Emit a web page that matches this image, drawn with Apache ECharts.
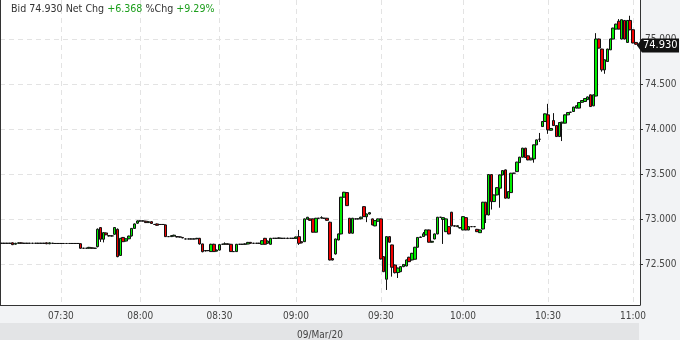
<!DOCTYPE html>
<html><head><meta charset="utf-8">
<script src="https://cdn.jsdelivr.net/npm/echarts@6/dist/echarts.min.js"></script>
<style>html,body{margin:0;padding:0;background:#f2f3f5;overflow:hidden}#c{width:680px;height:340px}</style>
</head><body><div id="c"></div><script>
// ---- header values ----
const bid = 74.930;
const netChg = '+6.368';
const pctChg = '+9.29%';
const dateLabel = '09/Mar/20';
// ---- time categories: runs of consecutive 1-minute bars [start, count] ----
const timeRuns = [["07:09",21],["07:30",28],["08:00",28],["08:30",27],["09:00",30],["09:30",29],["10:00",30],["10:30",30],["11:00",3]];
const tickMinutes = [':00', ':30'];
// ---- candles: [open, close, low, high] ----
const ohlc = [
[72.735,72.735,72.73,72.74],[72.735,72.735,72.73,72.74],[72.735,72.735,72.73,72.74],[72.735,72.735,72.73,72.74],
[72.74,72.72,72.715,72.745],[72.725,72.735,72.72,72.74],[72.735,72.74,72.73,72.745],[72.74,72.735,72.73,72.745],
[72.735,72.735,72.73,72.74],[72.735,72.735,72.73,72.74],[72.735,72.735,72.73,72.74],[72.735,72.735,72.73,72.74],
[72.735,72.735,72.73,72.74],[72.735,72.735,72.73,72.74],[72.735,72.735,72.73,72.74],[72.735,72.735,72.73,72.74],
[72.74,72.73,72.725,72.745],[72.73,72.74,72.725,72.745],[72.735,72.735,72.73,72.74],[72.733,72.733,72.73,72.737],
[72.733,72.733,72.73,72.737],[72.733,72.733,72.73,72.737],[72.733,72.733,72.73,72.737],[72.733,72.733,72.73,72.737],
[72.733,72.733,72.73,72.737],[72.733,72.733,72.73,72.737],[72.733,72.733,72.73,72.737],[72.733,72.733,72.73,72.737],
[72.73,72.68,72.675,72.735],[72.68,72.68,72.675,72.685],[72.68,72.68,72.675,72.685],[72.68,72.69,72.675,72.695],
[72.685,72.68,72.675,72.69],[72.68,72.68,72.675,72.685],[72.698,72.891,72.69,72.90],[72.909,72.78,72.75,72.915],
[72.78,72.853,72.745,72.86],[72.85,72.83,72.825,72.855],[72.82,72.817,72.81,72.825],[72.817,72.817,72.81,72.825],
[72.835,72.91,72.83,72.915],[72.89,72.587,72.58,72.90],[72.6,72.79,72.595,72.795],[72.80,72.753,72.75,72.805],
[72.76,72.785,72.755,72.79],[72.785,72.815,72.78,72.82],[72.817,72.90,72.81,72.905],[72.90,72.95,72.895,72.955],
[72.958,72.983,72.95,72.99],[72.983,72.983,72.978,72.988],[72.983,72.983,72.978,72.988],[72.98,72.965,72.96,72.985],
[72.965,72.975,72.96,72.98],[72.975,72.955,72.95,72.98],[72.944,72.944,72.94,72.95],[72.95,72.935,72.93,72.955],
[72.944,72.944,72.94,72.948],[72.944,72.944,72.94,72.948],[72.939,72.809,72.805,72.944],[72.809,72.809,72.805,72.815],
[72.809,72.82,72.805,72.825],[72.815,72.825,72.81,72.83],[72.81,72.805,72.80,72.815],[72.805,72.805,72.80,72.81],
[72.80,72.795,72.79,72.805],[72.783,72.783,72.78,72.788],[72.783,72.783,72.78,72.788],[72.783,72.783,72.78,72.788],
[72.783,72.783,72.78,72.788],[72.785,72.79,72.78,72.795],[72.79,72.728,72.72,72.795],[72.728,72.642,72.635,72.73],
[72.65,72.655,72.645,72.66],[72.655,72.653,72.648,72.66],[72.643,72.724,72.64,72.73],[72.724,72.643,72.64,72.73],
[72.648,72.66,72.645,72.665],[72.66,72.72,72.655,72.725],[72.724,72.724,72.72,72.73],[72.724,72.73,72.72,72.745],
[72.728,72.724,72.72,72.735],[72.724,72.643,72.64,72.728],[72.643,72.643,72.64,72.648],[72.643,72.724,72.64,72.728],
[72.724,72.724,72.72,72.728],[72.724,72.724,72.72,72.728],[72.724,72.728,72.72,72.735],[72.727,72.745,72.725,72.75],
[72.745,72.735,72.73,72.75],[72.735,72.735,72.73,72.74],[72.735,72.735,72.73,72.74],[72.735,72.735,72.73,72.74],
[72.724,72.764,72.72,72.768],[72.79,72.724,72.72,72.795],[72.735,72.76,72.73,72.765],[72.724,72.79,72.72,72.795],
[72.79,72.79,72.785,72.795],[72.79,72.79,72.785,72.795],[72.79,72.795,72.785,72.80],[72.79,72.79,72.785,72.795],
[72.79,72.79,72.785,72.795],[72.792,72.788,72.783,72.797],[72.79,72.79,72.785,72.795],[72.79,72.79,72.785,72.795],
[72.79,72.805,72.785,72.81],[72.809,72.735,72.717,72.883],[72.753,72.74,72.735,72.757],[72.753,73.006,72.75,73.01],
[73.002,73.024,72.998,73.028],[73.006,72.99,72.985,73.01],[73.006,72.858,72.855,73.01],[72.858,73.013,72.855,73.017],
[73.013,73.013,73.009,73.017],[73.015,73.02,73.01,73.035],[73.013,73.013,73.009,73.017],[73.013,72.99,72.985,73.017],
[72.969,72.55,72.545,72.975],[72.565,72.55,72.545,72.57],[72.617,72.783,72.61,72.787],[72.772,72.839,72.768,72.843],
[72.839,73.247,72.835,73.25],[73.247,73.302,73.243,73.306],[73.298,73.153,73.15,73.302],[73.013,72.847,72.843,73.017],
[72.847,73.013,72.843,73.017],[73.006,73.006,73.0,73.01],[73.006,73.006,73.0,73.01],[73.008,73.025,73.0,73.03],
[73.142,73.031,73.028,73.146],[73.03,73.06,72.97,73.065],[73.06,73.075,73.055,73.08],[73.006,72.939,72.935,73.01],
[72.928,72.987,72.925,72.99],[72.98,73.006,72.975,73.01],[73.006,72.561,72.555,73.01],[72.587,72.42,72.415,72.59],
[72.336,72.809,72.217,72.813],[72.809,72.747,72.743,72.813],[72.717,72.469,72.365,72.72],[72.494,72.409,72.40,72.50],
[72.41,72.46,72.35,72.465],[72.42,72.476,72.415,72.48],[72.476,72.50,72.47,72.505],[72.483,72.55,72.48,72.555],
[72.58,72.531,72.527,72.585],[72.55,72.624,72.545,72.628],[72.558,72.691,72.555,72.695],[72.691,72.80,72.688,72.805],
[72.80,72.805,72.797,72.81],[72.81,72.84,72.806,72.86],[72.828,72.883,72.825,72.887],[72.883,72.747,72.743,72.887],
[72.747,72.757,72.743,72.762],[72.783,72.839,72.78,72.843],[72.839,73.024,72.835,73.028],[73.024,73.024,73.02,73.028],
[73.0,73.02,72.728,73.024],[72.864,73.006,72.86,73.01],[72.92,72.839,72.835,72.924],[73.08,72.928,72.924,73.084],
[72.93,72.925,72.92,72.935],[72.92,72.93,72.915,72.935],[72.905,72.91,72.9,72.915],[72.883,73.031,72.88,73.035],
[73.02,72.883,72.88,73.024],[72.883,72.92,72.88,72.925],[72.92,72.92,72.915,72.925],[72.92,72.92,72.915,72.925],
[72.89,72.864,72.86,72.895],[72.853,72.883,72.85,72.887],[72.894,73.191,72.89,73.195],[73.191,73.05,72.96,73.195],
[73.05,73.498,73.045,73.502],[73.498,73.198,73.11,73.502],[73.198,73.272,73.195,73.276],[73.272,73.353,73.268,73.357],
[73.347,73.494,73.13,73.498],[73.494,73.542,73.49,73.546],[73.55,73.236,73.232,73.554],[73.236,73.309,73.232,73.313],
[73.298,73.513,73.295,73.517],[73.513,73.513,73.509,73.517],[73.531,73.636,73.528,73.64],[73.631,73.691,73.628,73.695],
[73.691,73.791,73.688,73.795],[73.791,73.687,73.683,73.795],[73.706,73.661,73.657,73.71],[73.661,73.68,73.657,73.684],
[73.672,73.828,73.63,73.832],[73.828,73.883,73.825,73.887],[73.89,73.89,73.86,73.96],[74.031,74.087,74.028,74.09],
[74.087,74.172,74.084,74.176],[74.161,73.994,73.95,74.283],[73.99,74.01,73.987,74.014],[74.098,74.042,74.039,74.18],
[74.042,73.92,73.917,74.046],[73.92,74.076,73.917,74.08],[74.069,74.08,73.87,74.084],[74.069,74.161,74.066,74.165],
[74.161,74.187,74.158,74.19],[74.19,74.19,74.186,74.194],[74.198,74.247,74.195,74.25],[74.236,74.262,74.233,74.266],
[74.236,74.298,74.233,74.302],[74.30,74.32,74.296,74.324],[74.309,74.342,74.306,74.346],[74.33,74.36,74.326,74.364],
[74.383,74.253,74.25,74.387],[74.261,74.383,74.258,74.387],[74.37,75.003,74.367,75.068],[75.003,74.902,74.898,75.007],
[74.891,74.661,74.64,74.895],[74.661,74.772,74.617,74.776],[74.753,74.891,74.75,74.895],[74.883,75.003,74.88,75.007],
[75.003,75.124,75.0,75.128],[75.113,75.168,75.11,75.172],[75.20,75.113,75.11,75.224],[75.003,75.217,75.0,75.221],
[75.209,75.003,75.0,75.213],[74.965,75.209,74.96,75.213],[75.209,75.106,75.10,75.261],[75.106,74.959,74.955,75.11],
[74.965,74.945,74.94,74.969],[74.945,74.93,74.926,74.949]
];
const yMin = 72.050, yMax = 75.436;

// build categories from runs
const categories = [];
timeRuns.forEach(([start, n]) => {
  let [h, m] = start.split(':').map(Number);
  for (let k = 0; k < n; k++) {
    categories.push(String(h).padStart(2,'0') + ':' + String(m).padStart(2,'0'));
    m++; if (m === 60) { m = 0; h++; }
  }
});
const isTick = (idx) => tickMinutes.some(s => categories[idx].endsWith(s));

const FONT = "'DejaVu Sans Condensed', 'DejaVu Sans', sans-serif";
const bandRect = {type: 'rect', shape: {x: 0, y: 323, width: 639, height: 17}, style: {fill: '#e3e4e6'}, z: -1, silent: true};
const chart = echarts.init(document.getElementById('c'), null, {renderer: 'canvas'});
chart.setOption({
  animation: false,
  backgroundColor: '#f2f3f5',
  title: {
    left: 6, top: 0, padding: [4, 5],
    text: '{a|Bid ' + bid.toFixed(3) + ' Net Chg }{g|' + netChg + '}{a| %Chg }{g|' + pctChg + '}',
    textStyle: {
      fontFamily: FONT, fontSize: 10.6, fontWeight: 'normal',
      rich: {
        a: {fontFamily: FONT, fontSize: 10.6, color: '#333333'},
        g: {fontFamily: FONT, fontSize: 10.6, color: '#1c9e1c'}
      }
    }
  },
  grid: {left: 0, right: 40, top: 0, bottom: 35, show: true, backgroundColor: '#ffffff', borderWidth: 0,
    containLabel: false, outerBoundsMode: 'none'},
  xAxis: {
    type: 'category', data: categories, boundaryGap: true,
    name: dateLabel, nameLocation: 'middle', nameGap: 25,
    nameTextStyle: {fontFamily: FONT, fontSize: 10, color: '#444'},
    axisLine: {lineStyle: {color: '#333', width: 1}},
    axisTick: {interval: (i) => isTick(i), alignWithLabel: true, length: 3, lineStyle: {color: '#333'}},
    axisLabel: {interval: (i) => isTick(i), fontFamily: FONT, fontSize: 10, color: '#444', margin: 6},
    splitLine: {show: true, interval: (i) => isTick(i), alignWithLabel: true, lineStyle: {color: '#e3e3e3', type: [5, 4]}}
  },
  yAxis: [{
    type: 'value', position: 'right', min: yMin, max: yMax, scale: true,
    splitNumber: 6, minInterval: 0.5, maxInterval: 0.5,
    axisLine: {show: true, lineStyle: {color: '#333', width: 1}},
    axisTick: {show: true, length: 3, lineStyle: {color: '#333'}},
    axisLabel: {fontFamily: FONT, fontSize: 10, color: '#444', margin: 5, showMinLabel: false, showMaxLabel: false,
      formatter: (v) => v.toFixed(3)},
    splitLine: {show: true, showMinLine: false, showMaxLine: false, lineStyle: {color: '#e3e3e3', type: [5, 4]}}
  }, {
    type: 'value', position: 'left', min: yMin, max: yMax,
    axisLine: {show: true, lineStyle: {color: '#333', width: 1}},
    axisTick: {show: false}, axisLabel: {show: false}, splitLine: {show: false}
  }],
  series: [{
    type: 'candlestick', data: ohlc, yAxisIndex: 0,
    barWidth: 3,
    itemStyle: {color: '#00ee00', color0: '#f00000', borderColor: '#111', borderColor0: '#111', borderColorDoji: '#111', borderWidth: 1}
  }],
  graphic: [bandRect]
});
// last price tag positioned through the y scale
const lastClose = ohlc[ohlc.length - 1][1];
const ty = chart.convertToPixel({yAxisIndex: 0}, lastClose);
const ax = 640;
chart.setOption({graphic: [bandRect, {
  type: 'polygon', z: 100,
  shape: {points: [[ax - 3, ty], [ax + 2, ty - 7], [ax + 39, ty - 7], [ax + 39, ty + 7], [ax + 2, ty + 7]]},
  style: {fill: '#111'}
}, {
  type: 'text', z: 101, x: ax + 3, y: ty,
  style: {text: lastClose.toFixed(3), fill: '#fff', font: '11px ' + FONT, textVerticalAlign: 'middle', verticalAlign: 'middle'}
}]});
</script></body></html>
